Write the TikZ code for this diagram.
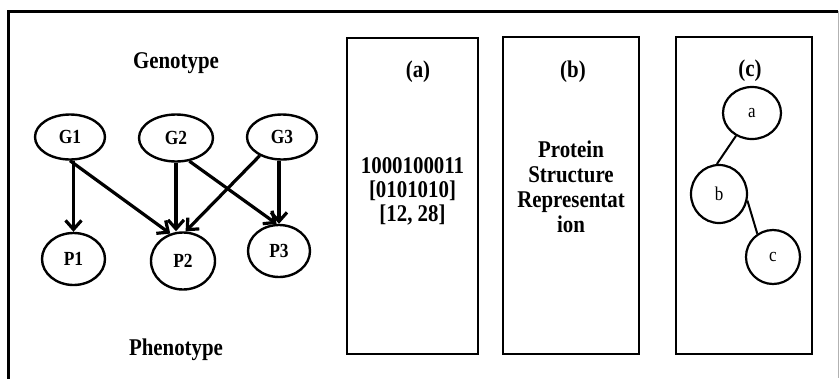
\documentclass[tikz,border=0pt]{standalone}
\usepackage{fontspec}
\setmainfont{Liberation Serif}
\newfontfamily\tallserif[FakeStretch=0.87]{Liberation Serif}
\usetikzlibrary{shapes.geometric,arrows.meta}
\begin{document}
\begin{tikzpicture}[x=1pt,y=-1pt,
  ell/.style={ellipse,draw,line width=2.4pt,inner sep=0pt,font=\tallserif\fontsize{20}{22}\selectfont\bfseries},
  tre/.style={ellipse,draw,line width=2.2pt,inner sep=0pt,font=\tallserif\fontsize{19.5}{22}\selectfont},
  box/.style={draw,line width=2.8pt},
  lbl/.style={anchor=base,inner sep=0pt,font=\tallserif\fontsize{24}{28}\selectfont\bfseries},
  arr/.style={line width=3.2pt,-{Straight Barb[length=9pt,width=16pt]}},
  treeedge/.style={line width=2pt}]
\useasboundingbox (0,0) rectangle (839,378);
% outer frame
\draw[line width=3pt] (8,400) -- (8,11) -- (838,11);
\draw[gray!60,line width=1pt] (838,11) -- (838,378);
% left panel
\node[lbl] (geno) at (176,68) {Genotype};
\node[lbl] (pheno) at (176,355) {Phenotype};
\node[ell,minimum width=70pt,minimum height=45pt] (G1) at (70,137) {G1};
\node[ell,minimum width=74pt,minimum height=47pt] (G2) at (176,138) {G2};
\node[ell,minimum width=70pt,minimum height=45pt] (G3) at (282,137) {G3};
\node[ell,minimum width=63pt,minimum height=52pt] (P1) at (73.5,259) {P1};
\node[ell,minimum width=64pt,minimum height=57pt] (P2) at (183,261) {P2};
\node[ell,minimum width=62pt,minimum height=52pt] (P3) at (279,251) {P3};
\draw[arr] (P1.north |- G1.south) -- (P1.north);
\draw[arr] (G1.south) -- (P2.115);
\draw[arr] (G2.south) -- (G2.south |- P2.north);
\draw[arr] (G2.-60) -- (P3.95);
\draw[arr] (G3.-140) -- (P2.85);
\draw[arr] (P3.north |- G3.south) -- (P3.north);
% box (a)
\draw[box] (347,38) rectangle (478,354);
\node[lbl] (la) at (418,77) {(a)};
\node[lbl] (a1) at (412.5,173) {1000100011};
\node[lbl] (a2) at (412.5,197) {[0101010]};
\node[lbl] (a3) at (412.5,221) {[12, 28]};
% box (b)
\draw[box] (503,37) rectangle (639,354);
\node[lbl] (lb) at (573,77) {(b)};
\node[lbl] (b1) at (571,157) {Protein};
\node[lbl] (b2) at (571,182) {Structure};
\node[lbl] (b3) at (571,207) {Representat};
\node[lbl] (b4) at (571,232) {ion};
% box (c)
\draw[box] (676,37) rectangle (812,354);
\node[lbl] (lc) at (750,76) {(c)};
\node[tre,minimum width=58pt,minimum height=52pt] (ta) at (752,113) {a};
\node[tre,minimum width=56pt,minimum height=58pt] (tb) at (719,194) {b};
\node[tre,minimum width=54pt,minimum height=54pt] (tc) at (773,257) {c};
\draw[treeedge] (ta.-125) -- (tb.94);
\draw[treeedge] (tb.-13) -- (tc.124);
\end{tikzpicture}
\end{document}
